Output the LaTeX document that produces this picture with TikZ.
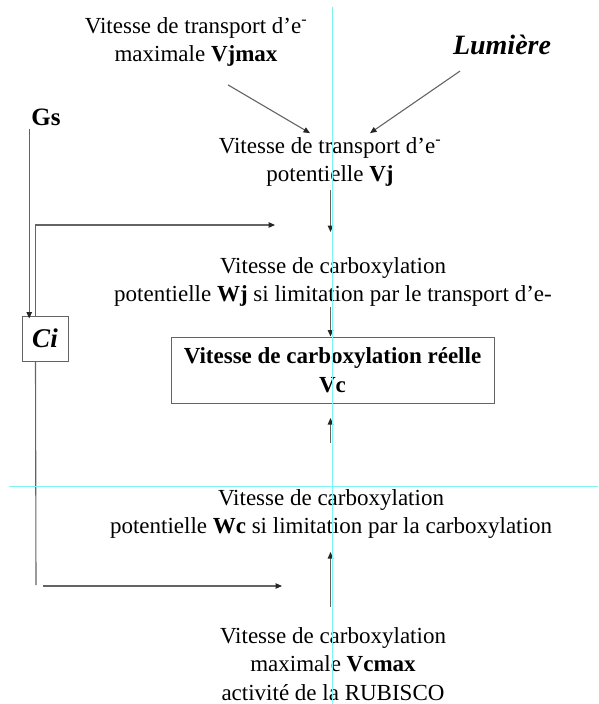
\documentclass[tikz,border=0pt]{standalone}
\usepackage{fontspec}
\setmainfont{Liberation Serif}
\usetikzlibrary{arrows.meta}
\definecolor{guide}{RGB}{125,245,245}
\definecolor{lncol}{RGB}{100,100,100}
\begin{document}
\begin{tikzpicture}[x=1pt,y=-1pt,
  txt/.style={font=\fontsize{23}{28.5}\selectfont, align=center, inner sep=0pt},
  arr/.style={draw=lncol, line width=1.1pt, -{Triangle[length=6.5pt,width=5.5pt,color=black!85]}},
  plain/.style={draw=lncol, line width=1.1pt},
  boxed/.style={draw=lncol, line width=1pt},
  guideline/.style={draw=guide, line width=0.9pt}]
\useasboundingbox (0,0) rectangle (598,704);

% text nodes
\node[txt] (vjmax) at (196,42) {Vitesse de transport d’e\textsuperscript{-}\\maximale \textbf{Vjmax}};
\node[txt, font=\fontsize{28}{30}\selectfont\bfseries\itshape] (lum) at (502,45) {Lumière};
\node[txt] (vj) at (330,162) {Vitesse de transport d’e\textsuperscript{-}\\potentielle \textbf{Vj}};
\node[txt, font=\fontsize{25}{28}\selectfont\bfseries] (gs) at (46,117) {Gs};
\node[boxed, minimum width=46pt, minimum height=45pt, inner sep=0pt,
      font=\fontsize{27}{28}\selectfont\bfseries\itshape] (ci) at (45,338.5) {Ci};
\node[txt] (wj) at (333,282) {Vitesse de carboxylation\\potentielle \textbf{Wj} si limitation par le transport d’e-};
\node[boxed, minimum width=323pt, minimum height=66pt, inner sep=0pt,
      font=\fontsize{23}{29}\selectfont\bfseries, align=center] (box) at (332.5,370) {Vitesse de carboxylation réelle\\Vc};
\node[txt] (wc) at (331,514) {Vitesse de carboxylation\\potentielle \textbf{Wc} si limitation par la carboxylation};
\node[txt] (vcmax) at (333,664) {Vitesse de carboxylation\\maximale \textbf{Vcmax}\\activité de la RUBISCO};

% free ends
\coordinate (t1) at (330.5,232);
\coordinate (c1) at (275,225);
\coordinate (c2) at (36,585);
\coordinate (c3) at (43,586);
\coordinate (c4) at (282,586);
\coordinate (b1) at (330.5,443);
\coordinate (b2) at (330.5,418);
\coordinate (d1) at (330.5,607);
\coordinate (d2) at (330.5,552);

% connectors
\draw[arr] ([shift={(32,18)}]vjmax.south) -- ([shift={(-20,-4)}]vj.north);
\draw[arr] ([shift={(-42,16)}]lum.south) -- ([shift={(40,-4)}]vj.north);
\draw[arr] (vj.south -| t1) ++(0,3) -- (t1);
\draw[arr] (wj.south -| t1) -- (box.north -| t1);
\draw[arr] (b1) -- (b2);
\draw[arr] (d1) -- (d2);
\draw[arr] ([shift={(-2,3)}]gs.south west) -- ([shift={(-2,3)}]gs.south west |- ci.north);
\draw[arr] ([xshift=14pt]ci.north west) |- (c1);
\draw[plain] ([xshift=14pt]ci.south west) -- (c2);
\draw[arr] (c3) -- (c4);

% guide lines
\draw[guideline] (332.5,7) -- (332.5,704);
\draw[guideline] (9,486) -- (598,486);
\end{tikzpicture}
\end{document}
